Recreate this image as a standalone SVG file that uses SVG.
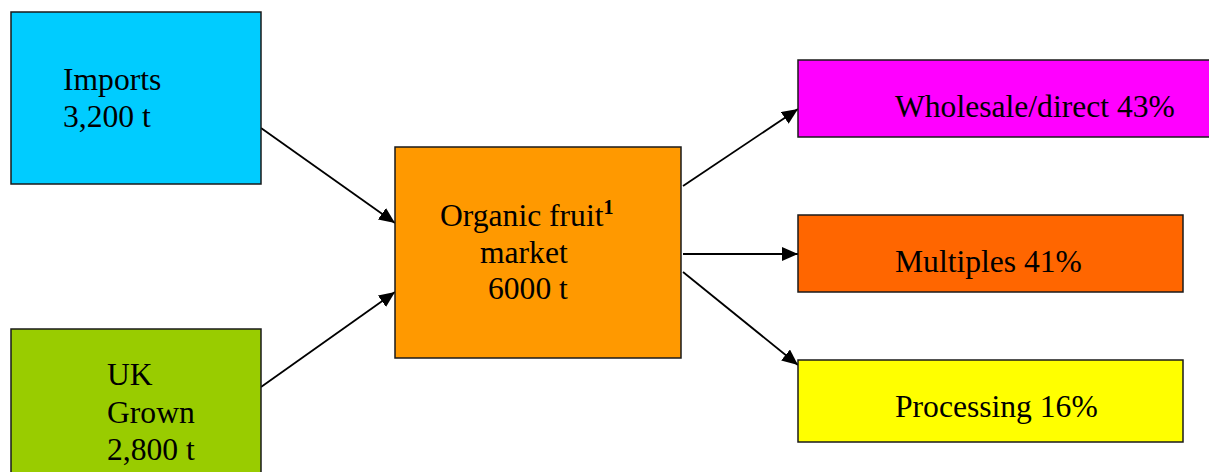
<svg xmlns="http://www.w3.org/2000/svg" width="1209" height="472" viewBox="0 0 1209 472">
<style>
.box{stroke:#1a1a1a;stroke-width:1.5}
.t{font-family:"Liberation Serif","Times New Roman",serif;font-size:31.6px;fill:#000}
.sup{font-family:"Liberation Serif","Times New Roman",serif;font-size:20px;font-weight:bold;fill:#000}
.c{stroke:#000;stroke-width:1.8;fill:none;marker-end:url(#ah)}
</style>
<defs>
<marker id="ah" markerUnits="userSpaceOnUse" markerWidth="18" markerHeight="14" refX="16" refY="7" orient="auto">
<path d="M0,0 L16,7 L0,14 Z" fill="#000"/>
</marker>
</defs>
<rect width="1209" height="472" fill="#fff"/>
<g id="connectors">
<line class="c" x1="261" y1="128" x2="395" y2="223"/>
<line class="c" x1="261" y1="387" x2="395" y2="292"/>
<line class="c" x1="683" y1="186" x2="798" y2="109"/>
<line class="c" x1="683" y1="254" x2="798" y2="254"/>
<line class="c" x1="683" y1="272" x2="798" y2="365"/>
</g>
<g id="imports">
<rect class="box" x="11" y="12" width="250" height="172" fill="#00CCFF"/>
<text class="t" x="63" y="90">Imports</text>
<text class="t" x="63" y="127">3,200 t</text>
</g>
<g id="uk-grown">
<rect class="box" x="11" y="329" width="250" height="160" fill="#99CC00"/>
<text class="t" x="107" y="385">UK</text>
<text class="t" x="107" y="423">Grown</text>
<text class="t" x="107" y="460">2,800 t</text>
</g>
<g id="organic-market">
<rect class="box" x="395" y="147" width="286" height="211" fill="#FF9900"/>
<text class="t" x="440" y="226">Organic fruit<tspan class="sup" dy="-12">1</tspan></text>
<text class="t" x="480" y="263">market</text>
<text class="t" x="488" y="299">6000 t</text>
</g>
<g id="wholesale">
<rect class="box" x="798" y="60" width="420" height="77" fill="#FF00FF"/>
<text class="t" x="895" y="117">Wholesale/direct 43%</text>
</g>
<g id="multiples">
<rect class="box" x="798" y="215" width="385" height="77" fill="#FF6600"/>
<text class="t" x="895" y="272">Multiples 41%</text>
</g>
<g id="processing">
<rect class="box" x="798" y="360" width="385" height="82" fill="#FFFF00"/>
<text class="t" x="895" y="417">Processing 16%</text>
</g>
</svg>
